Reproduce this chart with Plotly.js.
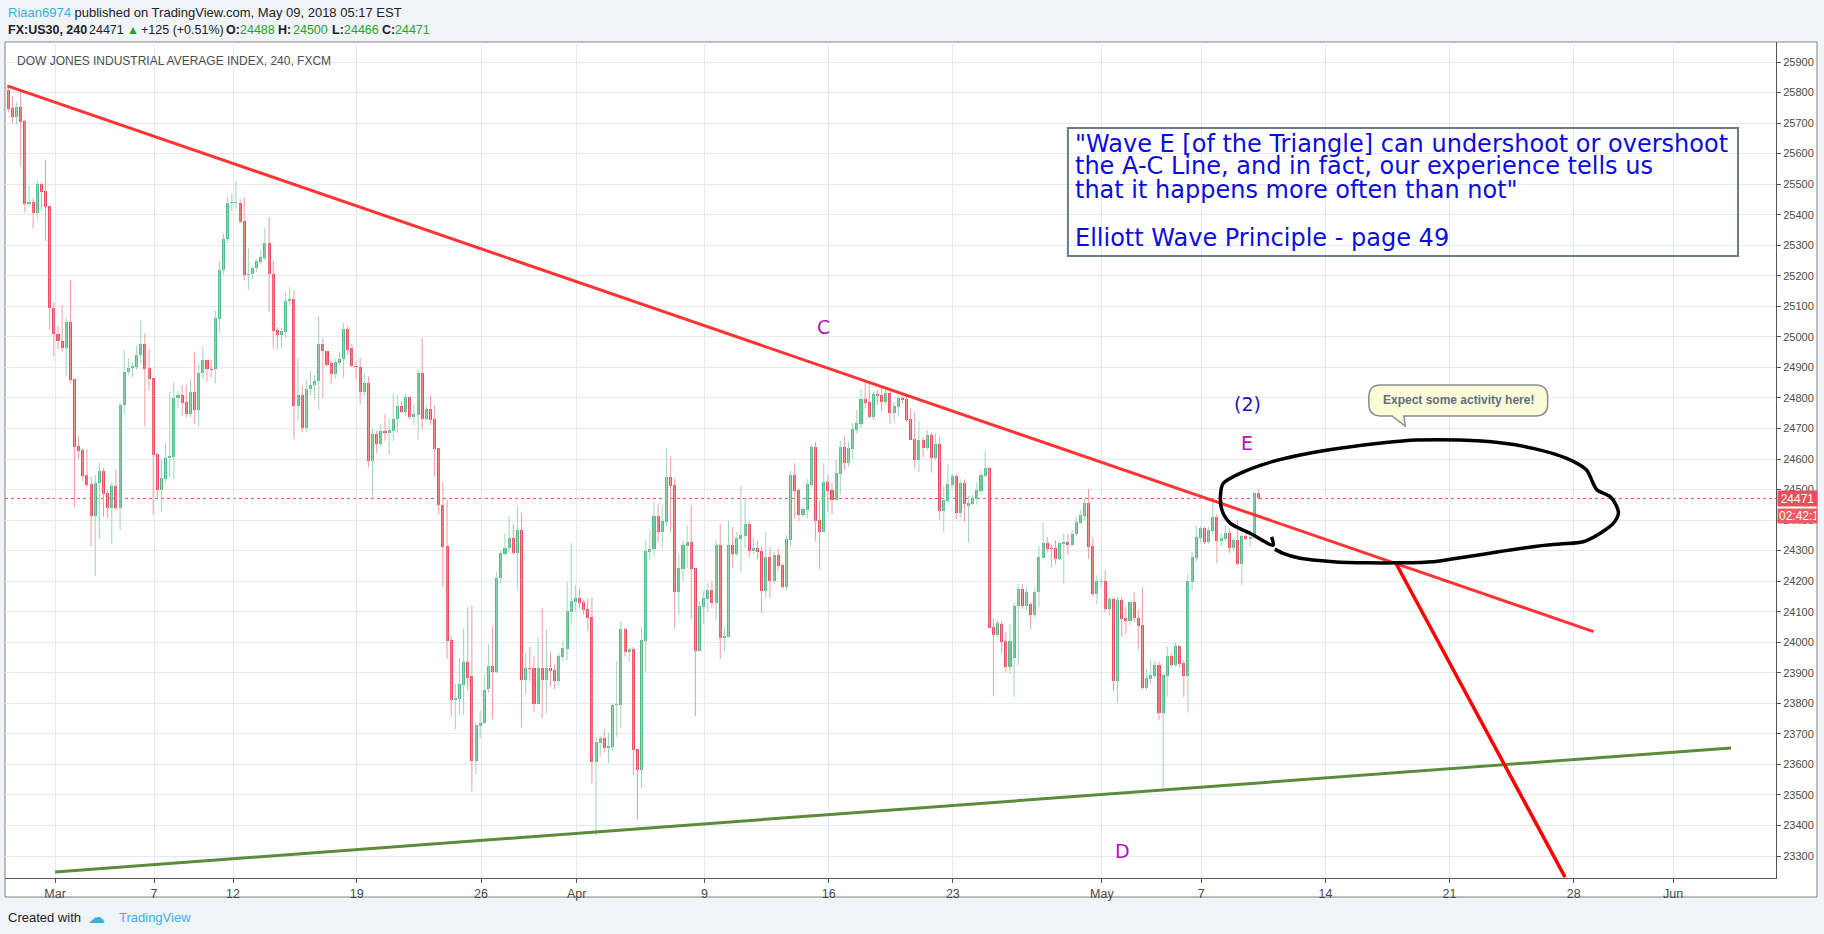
<!DOCTYPE html>
<html><head><meta charset="utf-8">
<script src="https://cdn.plot.ly/plotly-3.0.1.min.js"></script>
<style>html,body{margin:0;padding:0;background:#f0f3f7;}#chart{width:1824px;height:934px;}</style>
</head><body><div id="chart"></div>
<script>
// ---- OHLC data (4h bars, FX:US30) ----
const opens = [25809,25749,25720,25752,25707,25435,25443,25405,25502,25477,25427,25095,25010,24987,24965,25050,24862,24642,24629,24547,
24518,24413,24523,24561,24488,24440,24511,24440,24777,24885,24897,24900,24941,24977,24899,24866,24616,24498,24535,24605,
24608,24800,24810,24786,24747,24820,24760,24882,24925,24896,24894,25060,25218,25320,25437,25437,25439,25378,25202,25205,
25224,25244,25257,25306,25207,25022,25007,25016,25116,25123,24772,24809,24703,24828,24841,24854,24977,24954,24913,24877,
24916,24927,25027,24962,24906,24902,24818,24849,24594,24683,24650,24692,24684,24692,24731,24772,24754,24803,24738,24745,
24883,24732,24764,24732,24636,24449,24314,24006,23811,23815,23859,23937,23888,23611,23726,23735,23846,23922,23902,24211,
24289,24309,24342,24293,24367,23875,23915,23915,23798,23915,23875,23915,23908,23872,23952,23977,24099,24131,24144,24131,
24108,24082,23608,23670,23685,23654,23657,23795,23795,24043,23968,23977,23649,23583,24004,24296,24304,24413,24361,24394,
24541,24515,24164,24239,24315,24328,24243,23972,24116,24141,24170,24129,24318,24014,24017,24318,24288,24338,24349,24387,
24298,24308,24298,24168,24278,24201,24285,24252,24181,24334,24548,24498,24416,24433,24514,24639,24400,24361,24525,24498,
24467,24551,24639,24587,24633,24695,24716,24797,24787,24739,24813,24810,24788,24815,24752,24770,24800,24797,24730,24666,
24597,24662,24636,24679,24603,24649,24429,24463,24515,24544,24423,24521,24446,24454,24469,24496,24545,24570,24049,24023,
24061,24003,23918,23949,24118,24176,24119,24126,24088,24164,24277,24325,24309,24309,24272,24321,24328,24319,24353,24391,
24413,24456,24314,24157,24196,24202,24108,24141,23872,24138,24079,24070,24131,24081,24056,23851,23879,23889,23925,23770,
23889,23954,23925,23987,23931,23889,24196,24277,24342,24374,24327,24365,24410,24332,24339,24357,24309,24334,24257,24349,
24339,24345,24488];
const highs = [25815,25789,25767,25805,25710,25496,25454,25512,25505,25581,25427,25114,25036,25104,25063,25187,24862,24675,24635,24633,
24542,24547,24588,24571,24498,24522,24566,24783,24958,24930,24916,24971,25054,25012,24960,24866,24621,24598,24655,24820,
24852,24824,24843,24843,24862,24947,24912,24968,24925,24925,25087,25246,25339,25461,25470,25512,25450,25458,25289,25231,
25253,25283,25358,25392,25250,25033,25029,25145,25162,25153,24932,24840,24858,24888,24875,25068,24994,24954,24922,24928,
24950,25046,25037,24977,24919,24932,24883,24871,24701,24692,24714,24748,24732,24815,24809,24789,24815,24803,24776,24893,
24997,24774,24810,24776,24636,24523,24467,24020,23864,23950,24045,24114,24120,23737,23775,23892,23994,24050,24231,24302,
24357,24413,24387,24446,24423,23965,23987,23954,24016,24111,24043,23967,23927,23965,24003,24197,24325,24187,24177,24141,
24143,24147,23690,23692,23715,23705,23800,23939,24069,24046,23980,23984,23649,24052,24334,24367,24460,24455,24449,24636,
24607,24537,24291,24334,24382,24449,24243,24132,24170,24194,24200,24334,24387,24052,24398,24378,24361,24511,24471,24397,
24343,24332,24315,24361,24312,24296,24307,24258,24352,24561,24588,24504,24446,24534,24647,24656,24462,24587,24548,24522,
24597,24660,24676,24657,24717,24761,24829,24848,24848,24821,24826,24832,24837,24826,24786,24807,24810,24808,24764,24755,
24722,24673,24695,24687,24684,24671,24509,24584,24551,24551,24533,24533,24479,24482,24526,24561,24627,24575,24078,24072,
24070,24033,24059,24127,24192,24190,24181,24132,24181,24315,24393,24345,24321,24334,24329,24356,24356,24367,24413,24433,
24466,24502,24343,24219,24214,24236,24149,24149,24149,24149,24116,24133,24164,24105,24181,23913,23941,23939,23936,23897,
23987,23963,23998,23987,23941,24223,24296,24384,24380,24378,24378,24466,24420,24356,24380,24373,24340,24402,24356,24356,
24367,24496,24500];
const lows = [25735,25699,25694,25557,25406,25426,25355,25384,25417,25313,25025,24936,24960,24952,24873,24850,24443,24599,24529,24509,
24314,24216,24339,24411,24407,24323,24430,24367,24745,24876,24868,24892,24914,24706,24824,24418,24471,24430,24520,24542,
24534,24767,24742,24736,24736,24717,24706,24861,24854,24868,24848,25012,25204,25308,25412,25417,25373,25185,25155,25190,
25211,25237,25250,25081,24961,24958,24962,24997,25103,24666,24727,24690,24690,24809,24794,24761,24802,24903,24846,24864,
24906,24867,24941,24901,24861,24780,24806,24572,24474,24620,24640,24659,24614,24659,24685,24750,24740,24728,24711,24663,
24698,24727,24711,24542,24419,24181,23945,23757,23714,23763,23763,23841,23513,23568,23685,23731,23835,23750,23900,24194,
24283,24296,24287,24170,23720,23830,23873,23772,23798,23752,23768,23857,23845,23859,23939,23941,24057,24102,24110,24090,
24037,23539,23367,23624,23640,23604,23643,23690,23719,23954,23937,23565,23419,23522,23903,24271,24280,24329,24309,24380,
24358,24043,24088,24201,24244,24075,23758,23972,24059,24099,24113,24072,23945,23972,24017,24244,24282,24230,24310,24280,
24290,24273,24096,24145,24145,24192,24234,24175,24170,24313,24404,24398,24411,24405,24509,24331,24239,24361,24427,24420,
24463,24483,24564,24575,24597,24684,24701,24766,24733,24728,24777,24758,24777,24714,24719,24739,24782,24722,24662,24569,
24558,24605,24629,24555,24597,24400,24362,24455,24503,24404,24408,24394,24326,24449,24451,24485,24542,24047,23823,24017,
23963,23902,23897,23821,23925,24110,24105,24043,24081,24116,24277,24293,24247,24256,24269,24192,24285,24315,24348,24387,
24400,24272,24149,24125,24181,24099,24088,23840,23801,24017,24028,24057,24067,23977,23845,23843,23864,23881,23746,23520,
23821,23919,23919,23919,23821,23770,24170,24263,24324,24321,24321,24351,24258,24313,24332,24291,24299,24252,24187,24334,
24313,24339,24466];
const closes = [25747,25720,25752,25704,25435,25443,25405,25502,25474,25425,25093,25008,24985,24965,25050,24859,24640,24627,24545,24515,
24413,24523,24561,24485,24440,24511,24440,24777,24885,24897,24903,24941,24977,24896,24862,24614,24498,24537,24605,24608,
24800,24810,24784,24747,24820,24760,24882,24925,24894,24892,25063,25220,25322,25437,25440,25441,25376,25202,25207,25224,
25250,25261,25306,25205,25019,25007,25018,25119,25123,24772,24809,24703,24828,24842,24855,24977,24953,24909,24877,24918,
24928,25027,24958,24903,24901,24818,24849,24594,24683,24650,24692,24684,24696,24732,24772,24754,24803,24738,24748,24883,
24732,24764,24729,24633,24448,24313,24003,23811,23818,23864,23937,23884,23611,23728,23736,23845,23922,23902,24211,24292,
24310,24340,24293,24367,23875,23915,23911,23798,23915,23875,23915,23905,23872,23954,23980,24102,24134,24144,24129,24105,
24080,23608,23672,23685,23654,23659,23793,23797,24043,23968,23977,23646,23583,24007,24298,24305,24413,24361,24397,24541,
24513,24164,24243,24318,24328,24239,23972,24118,24144,24170,24129,24318,24014,24020,24318,24288,24342,24351,24387,24298,
24308,24296,24168,24278,24201,24285,24250,24181,24337,24548,24496,24416,24436,24518,24639,24397,24361,24525,24496,24467,
24554,24639,24587,24636,24698,24719,24797,24785,24739,24813,24806,24788,24815,24752,24772,24800,24793,24728,24662,24597,
24662,24636,24679,24603,24649,24429,24466,24518,24544,24423,24521,24454,24456,24470,24498,24548,24570,24047,24023,24063,
24001,23919,24003,24120,24176,24119,24165,24088,24165,24279,24325,24306,24306,24272,24325,24328,24319,24356,24393,24416,
24456,24311,24157,24199,24202,24108,24141,23872,24138,24075,24070,24131,24079,24053,23851,23882,23892,23925,23770,23892,
23954,23925,23987,23928,23889,24199,24280,24344,24374,24327,24367,24410,24332,24341,24357,24309,24334,24257,24349,24339,
24345,24488,24471];

// ---- time axis labels (bar index of each date) ----
const tickLabels = ['Mar','7','12','19','26','Apr','9','16','23','May','7','14','21','28','Jun'];
const tickBars   = [11.3,35.2,54.3,84.2,114.2,137.3,168.2,198.2,228.2,264.2,288.2,318.2,348.2,378.2,402.2];

// ---- drawings (bar index, price) ----
const acLineX = [-0.24, 383.0],  acLineY = [25822, 24035];
const supportX = [11.3, 416.2],  supportY = [23248, 23654];
const dropX = [335.3, 376.1],    dropY = [24257, 23231];
const circleX = [306.0,308.0,312.1,320.1,328.2,336.2,344.3,352.4,360.4,368.4,374.9,380.5,384.6,387.8,389.0,388.6,387.0,383.8,382.9,381.3,376.5,368.4,360.4,350.7,340.3,332.2,321.7,312.1,304.0,297.6,293.5,292.9,293.2,295.2,300.0,305.6,305.2];
const circleY = [24305,24291,24275,24264,24260,24260,24264,24280,24297,24313,24322,24329,24357,24390,24422,24444,24477,24499,24520,24564,24602,24635,24653,24662,24662,24653,24635,24613,24586,24553,24520,24488,24433,24390,24357,24318,24345];
const lastPrice = 24471;

// header quote values
const symbolName = 'FX:US30, 240';
const quoteLast = '24471', quoteChange = '+125 (+0.51%)';
const ohlcNames = ['O:','H:','L:','C:'];
const ohlcValues = ['24488','24500','24466','24471'];

const quoteLines = ['"Wave E [of the Triangle] can undershoot or overshoot',
                    'the A-C Line, and in fact, our experience tells us',
                    'that it happens more often than not"',
                    'Elliott Wave Principle - page 49'];
const quoteLineY = [25631, 25558, 25481, 25324];

const n = closes.length;
const idx = closes.map((_, i) => i);
const UP = '#53b987', DOWN = '#eb4d5c', UPW = '#9dd6b8', DOWNW = '#f39aa3';

function wicks(up, color) {
  const xs = [], ys = [];
  for (let i = 0; i < n; i++) {
    if ((closes[i] >= opens[i]) !== up) continue;
    xs.push(i, i, null); ys.push(lows[i], highs[i], null);
  }
  return {type:'scatter', mode:'lines', x:xs, y:ys, line:{color:color, width:1}, hoverinfo:'skip', connectgaps:false};
}

const traces = [
  wicks(true, UPW), wicks(false, DOWNW),
  {type:'bar', x:idx, base:idx.map(i => Math.min(opens[i], closes[i])),
   y:idx.map(i => Math.max(Math.abs(closes[i]-opens[i]), 3.5)), width:0.74,
   marker:{color:idx.map(i => closes[i] >= opens[i] ? UP : DOWN), line:{width:0}}, hoverinfo:'skip'},
  {type:'scatter', mode:'lines', x:acLineX, y:acLineY, line:{color:'rgba(255,30,30,0.9)', width:3}, hoverinfo:'skip'},
  {type:'scatter', mode:'lines', x:supportX, y:supportY, line:{color:'#5b8c3b', width:3}, hoverinfo:'skip'},
  {type:'scatter', mode:'lines', x:dropX, y:dropY, line:{color:'#ff0000', width:3.5}, hoverinfo:'skip'},
  {type:'scatter', mode:'lines', x:circleX, y:circleY, line:{color:'#000000', width:3.5, shape:'spline', smoothing:0.8}, hoverinfo:'skip'}
];

const SANS = '"Liberation Sans", Arial, sans-serif';
const DV = '"DejaVu Sans", Verdana, sans-serif';
const GREEN = '#1fa51f';
const px = v => (v - 5) / 1771;          // page x (px) -> paper x
const py = v => (878 - v) / 836;         // page y (px) -> paper y

function hdr(x, y, text, size, color) {
  return {xref:'paper', yref:'paper', x:px(x), y:py(y), xanchor:'left', yanchor:'middle', showarrow:false,
          text:text, font:{family:SANS, size:size, color:color}};
}

const annotations = [
  hdr(6, 12, '<span style="color:#3bb0e0">Riaan6974</span> published on TradingView.com, May 09, 2018 05:17 EST', 13, '#222'),
  hdr(5.5, 30, '<b>' + symbolName + '</b>', 12.5, '#222'),
  hdr(87, 30, quoteLast, 12.5, '#222'),
  hdr(125, 30, '▲', 12, GREEN),
  hdr(139, 30, quoteChange, 12.5, '#222'),
  hdr(28, 61, '', 12, '#222'),
  hdr(15, 61, 'DOW JONES INDUSTRIAL AVERAGE INDEX, 240, FXCM', 12, '#4d4d4d'),
  hdr(6, 917, 'Created with', 13, '#222'),
  hdr(86, 917, '<span style="font-size:17px">☁</span>', 15, '#3bb0e0'),
  hdr(117, 917, 'TradingView', 13, '#3bb0e0'),
  // wave labels
  {x:197, y:25032, text:'C', showarrow:false, font:{family:DV, size:19, color:'#b517b5'}},
  {x:299.3, y:24781, text:'(2)', showarrow:false, font:{family:DV, size:19, color:'#1616b0'}},
  {x:299.2, y:24651, text:'E', showarrow:false, font:{family:DV, size:19, color:'#b517b5'}},
  {x:269.2, y:23316, text:'D', showarrow:false, font:{family:DV, size:19, color:'#b517b5'}},
  // callout text
  {x:350.4, y:24793, text:'<b>Expect some activity here!</b>', showarrow:false,
   font:{family:SANS, size:12, color:'#5f6f7f'}},
  // price labels on axis
  {xref:'paper', x:1.0006, y:lastPrice, xanchor:'left', yanchor:'middle', showarrow:false, text:'24471',
   font:{family:SANS, size:12, color:'#ffffff'}, bgcolor:'#e8505b', width:37, height:13, borderpad:1},
  {xref:'paper', x:1.0006, y:24414, xanchor:'left', yanchor:'middle', showarrow:false, text:'02:42:1',
   font:{family:SANS, size:12, color:'#ffffff'}, bgcolor:'#ec5a64', width:37, height:12, borderpad:1, align:'left'}
];
const ohlcX = [224, 276, 330, 380], ohlcValX = [238, 291, 342, 393];
ohlcNames.forEach((nm, k) => {
  annotations.push(hdr(ohlcX[k], 30, '<b>' + nm + '</b>', 12.5, '#222'));
  annotations.push(hdr(ohlcValX[k], 30, ohlcValues[k], 12.5, GREEN));
});
quoteLines.forEach((t, k) => annotations.push({x:257.2, y:quoteLineY[k], xanchor:'left', yanchor:'middle', showarrow:false,
  text:t, font:{family:DV, size:24, color:'#0c0cdc'}}));

// speech bubble outline (bar index / price units)
const bx0 = 328.7, bx1 = 371.9, bTop = 24842, bBot = 24741, rx = 2.9, ry = 39;
const tailL = 334.3, tailR = 337.2, tipX = 337.5, tipY = 24708;
const bubblePath = `M ${bx0+rx},${bTop} L ${bx1-rx},${bTop} Q ${bx1},${bTop} ${bx1},${bTop-ry} L ${bx1},${bBot+ry} ` +
  `Q ${bx1},${bBot} ${bx1-rx},${bBot} L ${tailR},${bBot} L ${tipX},${tipY} L ${tailL},${bBot} L ${bx0+rx},${bBot} ` +
  `Q ${bx0},${bBot} ${bx0},${bBot+ry} L ${bx0},${bTop-ry} Q ${bx0},${bTop} ${bx0+rx},${bTop} Z`;

const layout = {
  width:1824, height:934,
  margin:{l:5, r:48, t:42, b:56},
  paper_bgcolor:'#f0f3f7', plot_bgcolor:'#ffffff',
  showlegend:false, barmode:'overlay', bargap:0,
  font:{family:SANS, color:'#4a4a4a'},
  xaxis:{range:[-0.8, 427.07], tickmode:'array', tickvals:tickBars, ticktext:tickLabels,
    showgrid:true, gridcolor:'#e3ebf1', gridwidth:1, zeroline:false, showline:true, linecolor:'#555', linewidth:1,
    ticks:'outside', ticklen:4, tickcolor:'#555', tickfont:{family:SANS, size:12.5, color:'#4a4a4a'}, fixedrange:true},
  yaxis:{side:'right', range:[23228.1, 25965.5], tickmode:'linear', tick0:23300, dtick:100, tickformat:'d',
    showgrid:true, gridcolor:'#e3ebf1', gridwidth:1, zeroline:false, showline:true, linecolor:'#555', linewidth:1,
    ticks:'outside', ticklen:4, tickcolor:'#555', tickfont:{family:SANS, size:11, color:'#4a4a4a'}, fixedrange:true},
  shapes:[
    {type:'rect', xref:'paper', yref:'paper', x0:0, x1:1.02315, y0:-0.02273, y1:1, fillcolor:'#ffffff',
     line:{color:'#808080', width:1}, layer:'below'},
    {type:'line', xref:'paper', yref:'y', x0:0, x1:1, y0:lastPrice, y1:lastPrice,
     line:{color:'#e8505b', width:1, dash:'dot'}, layer:'between'},
    {type:'rect', xref:'x', yref:'y', x0:256.0, x1:417.9, y0:25265, y1:25684, line:{color:'#6c7b87', width:2}, fillcolor:'rgba(0,0,0,0)'},
    {type:'path', xref:'x', yref:'y', path:bubblePath, fillcolor:'#fdfcd9', line:{color:'#8c8c8c', width:1.5}, layer:'above'}
  ],
  annotations:annotations
};

Plotly.newPlot('chart', traces, layout, {staticPlot:true, displayModeBar:false});
</script>
</body></html>
